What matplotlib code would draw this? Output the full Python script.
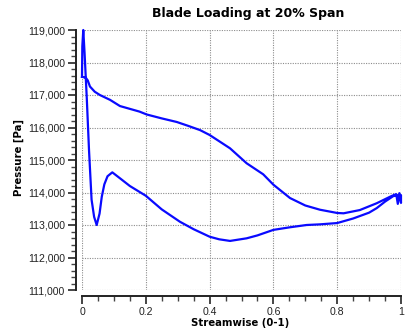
import matplotlib
matplotlib.use('Agg')
import matplotlib.pyplot as plt
from matplotlib.ticker import MultipleLocator, FuncFormatter

# pressure side: leading edge -> trailing edge
upper_x = [0.0, 0.012, 0.018, 0.025, 0.04, 0.056, 0.088, 0.119, 0.18, 0.203,
           0.25, 0.297, 0.333, 0.37, 0.4, 0.464, 0.516, 0.568, 0.6, 0.652,
           0.7, 0.746, 0.8, 0.82, 0.871, 0.924, 0.97, 0.985]
upper_y = [117560, 117530, 117450, 117260, 117100, 117000, 116850, 116660, 116490, 116400,
           116280, 116170, 116050, 115920, 115770, 115360, 114900, 114560, 114240, 113830,
           113600, 113470, 113370, 113360, 113460, 113670, 113890, 113950]

# trailing edge wiggle
te_x = [0.99, 0.995, 1.0, 1.0]
te_y = [113650, 113980, 113680, 113920]

# suction side: trailing edge -> leading edge
lower_x = [0.976, 0.95, 0.924, 0.9, 0.85, 0.8, 0.746, 0.704, 0.652, 0.6,
           0.55, 0.516, 0.464, 0.43, 0.4, 0.35, 0.307, 0.25, 0.2, 0.15,
           0.12, 0.095, 0.08, 0.07, 0.062, 0.055, 0.046, 0.038, 0.03, 0.022,
           0.015, 0.008, 0.004, 0.001, 0.0]
lower_y = [113890, 113720, 113520, 113380, 113200, 113060, 113020, 113000, 112930, 112850,
           112680, 112590, 112510, 112560, 112640, 112870, 113100, 113480, 113900, 114200,
           114430, 114620, 114500, 114250, 113870, 113350, 113000, 113250, 113780, 115300,
           116900, 118300, 119000, 118500, 117560]

x = upper_x + te_x + lower_x
y = upper_y + te_y + lower_y

fig = plt.figure(figsize=(4.17, 3.35), dpi=100)
ax = fig.add_axes([82 / 417, 1 - 290 / 335, 319 / 417, 260 / 335])

ax.plot(x, y, color='#0a0aff', lw=1.6, solid_joinstyle='round', clip_on=False)

ax.set_xlim(0, 1)
ax.set_ylim(111000, 119000)

ax.xaxis.set_major_locator(MultipleLocator(0.2))
ax.xaxis.set_minor_locator(MultipleLocator(0.05))
ax.yaxis.set_major_locator(MultipleLocator(1000))
ax.yaxis.set_minor_locator(MultipleLocator(200))
ax.xaxis.set_major_formatter(FuncFormatter(lambda v, p: '%g' % round(v, 2)))
ax.yaxis.set_major_formatter(FuncFormatter(lambda v, p: '{:,.0f}'.format(v)))

ax.grid(True, which='major', color='#8c8c8c', linestyle=(0, (1, 1.2)), lw=0.8)

for s in ['top', 'right']:
    ax.spines[s].set_visible(False)
for s in ['left', 'bottom']:
    ax.spines[s].set_position(('outward', 4.3))
    ax.spines[s].set_linewidth(1.4)
    ax.spines[s].set_color('#222222')

ax.tick_params(which='major', length=6, width=1.4, color='#444444',
               labelsize=7.6, labelcolor='#222222', pad=2)
ax.tick_params(which='minor', length=3.5, width=1.0, color='#444444')
for lab in ax.get_xticklabels() + ax.get_yticklabels():
    lab.set_fontfamily('Liberation Sans')

fig.text(248 / 417, 1 - 14 / 335, 'Blade Loading at 20% Span', ha='center', va='center',
         fontsize=9, fontweight='bold', family='DejaVu Sans')
fig.text(19 / 417, 1 - 158 / 335, 'Pressure [Pa]', ha='center', va='center', rotation=90,
         fontsize=7.3, fontweight='bold', family='DejaVu Sans')
fig.text(240 / 417, 1 - 323 / 335, 'Streamwise (0-1)', ha='center', va='center',
         fontsize=7.3, fontweight='bold', family='DejaVu Sans')

fig.savefig('out.png', dpi=100)
